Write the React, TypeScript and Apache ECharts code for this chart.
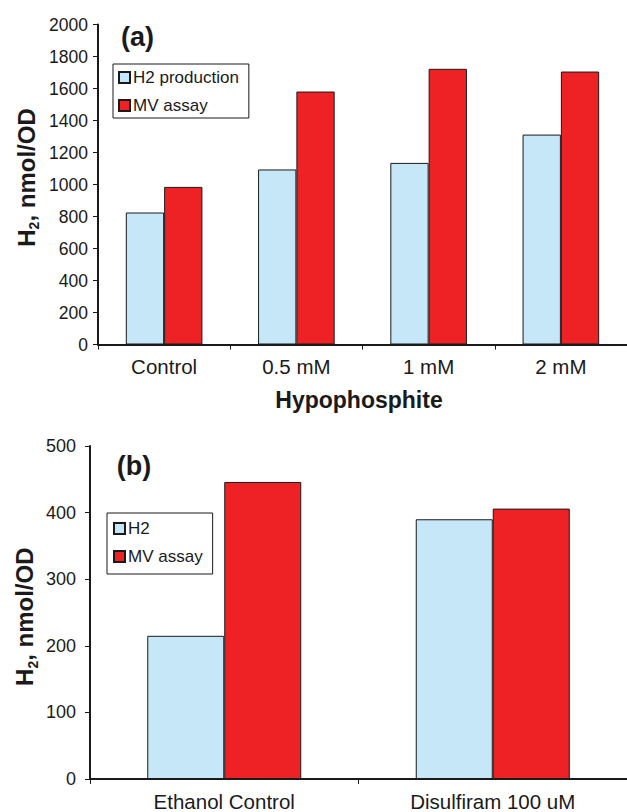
import React, { useEffect, useRef } from "react";
import * as echarts from "echarts";

const categoriesA = ["Control", "0.5 mM", "1 mM", "2 mM"];
const h2ProductionA = [825, 1094, 1135, 1312];
const mvAssayA = [985, 1581, 1723, 1706];

const categoriesB = ["Ethanol Control", "Disulfiram 100 uM"];
const h2B = [215, 390];
const mvAssayB = [446, 406];

const FONT = "'Liberation Sans', Arial, Helvetica, sans-serif";
const INK = "#1a1a1a";
const BLUE = "#C5E7F7";
const RED = "#EE2224";

export default function App() {
  const ref = useRef<HTMLDivElement>(null);
  useEffect(() => {
    if (!ref.current) return;
    const chart = echarts.init(ref.current, undefined, { renderer: "svg" });
    const axisLine = { show: true, lineStyle: { color: INK, width: 2 } };
    const axisTick = { show: true, length: 5, lineStyle: { color: INK, width: 1 } };
    const plain = (v: number) => String(v);
    const yName = (x: number, y: number) => ({
      type: "text",
      x,
      y,
      rotation: Math.PI / 2,
      style: {
        text: "{m|H}{s|2}{m|, nmol/OD}",
        align: "center",
        verticalAlign: "middle",
        fill: INK,
        rich: {
          m: { fontSize: 24, fontWeight: "bold", fontFamily: FONT, lineHeight: 30, verticalAlign: "middle", fill: INK },
          s: { fontSize: 14, fontWeight: "bold", fontFamily: FONT, lineHeight: 14, verticalAlign: "bottom", fill: INK },
        },
      },
    });
    const legendBase = {
      orient: "vertical",
      itemGap: 11,
      itemWidth: 11,
      itemHeight: 11,
      icon: "rect",
      borderColor: INK,
      borderWidth: 1,
      borderRadius: 0,
      backgroundColor: "#ffffff",
      selectedMode: false,
      textStyle: { fontSize: 17, color: INK, fontFamily: FONT, padding: [0, 0, 0, -2] },
    };
    const option: any = {
      animation: false,
      backgroundColor: "#ffffff",
      textStyle: { fontFamily: FONT, color: INK },
      grid: [
        { left: 98, top: 24.5, height: 320, right: -4.6 },
        { left: 90, top: 446, height: 333.3, right: -3.6 },
      ],
      xAxis: [
        {
          type: "category",
          gridIndex: 0,
          data: categoriesA,
          axisLine,
          axisTick,
          axisLabel: { fontSize: 20.5, color: INK, margin: 11, fontFamily: FONT },
        },
        {
          type: "category",
          gridIndex: 1,
          data: categoriesB,
          axisLine,
          axisTick,
          axisLabel: { fontSize: 20.5, color: INK, margin: 12, fontFamily: FONT },
        },
      ],
      yAxis: [
        {
          type: "value",
          gridIndex: 0,
          min: 0,
          max: 2000,
          interval: 200,
          axisLine,
          axisTick,
          splitLine: { show: false },
          axisLabel: { fontSize: 17.5, color: INK, margin: 10, fontFamily: FONT, formatter: plain },
        },
        {
          type: "value",
          gridIndex: 1,
          min: 0,
          max: 500,
          interval: 100,
          axisLine,
          axisTick,
          splitLine: { show: false },
          axisLabel: { fontSize: 18, color: INK, margin: 14, fontFamily: FONT, formatter: plain },
        },
      ],
      legend: [
        {
          ...legendBase,
          data: ["H2 production", "MV assay"],
          left: 113,
          top: 64,
          padding: [5, 10, 4, 5],
        },
        {
          ...legendBase,
          data: ["H2", "MV assay"],
          left: 107,
          top: 513,
          padding: [7, 10, 9, 6],
        },
      ],
      series: [
        {
          name: "H2 production",
          type: "bar",
          xAxisIndex: 0,
          yAxisIndex: 0,
          data: h2ProductionA,
          barWidth: 38.3,
          barGap: "0%",
          itemStyle: { color: BLUE, borderColor: INK, borderWidth: 1 },
        },
        {
          name: "MV assay",
          type: "bar",
          xAxisIndex: 0,
          yAxisIndex: 0,
          data: mvAssayA,
          barWidth: 38.3,
          barGap: "0%",
          itemStyle: { color: RED, borderColor: INK, borderWidth: 1 },
        },
        {
          name: "H2",
          type: "bar",
          xAxisIndex: 1,
          yAxisIndex: 1,
          data: h2B,
          barWidth: 77,
          barGap: "0%",
          itemStyle: { color: BLUE, borderColor: INK, borderWidth: 1 },
        },
        {
          name: "MV assay",
          type: "bar",
          xAxisIndex: 1,
          yAxisIndex: 1,
          data: mvAssayB,
          barWidth: 77,
          barGap: "0%",
          itemStyle: { color: RED, borderColor: INK, borderWidth: 1 },
        },
      ],
      graphic: [
        yName(26, 177.5),
        yName(24.5, 616.7),
        {
          type: "text",
          x: 359,
          y: 400,
          style: {
            text: "Hypophosphite",
            fontSize: 23,
            fontWeight: "bold",
            fontFamily: FONT,
            fill: INK,
            align: "center",
            verticalAlign: "middle",
          },
        },
        {
          type: "text",
          x: 137.5,
          y: 37,
          style: {
            text: "(a)",
            fontSize: 27,
            fontWeight: "bold",
            fontFamily: FONT,
            fill: INK,
            align: "center",
            verticalAlign: "middle",
          },
        },
        {
          type: "text",
          x: 134,
          y: 466,
          style: {
            text: "(b)",
            fontSize: 27,
            fontWeight: "bold",
            fontFamily: FONT,
            fill: INK,
            align: "center",
            verticalAlign: "middle",
          },
        },
      ],
    };
    chart.setOption(option);
    return () => chart.dispose();
  }, []);
  return (
    <div
      ref={ref}
      style={{ position: "absolute", left: 0, top: 0, width: 627, height: 812, background: "#fff" }}
    />
  );
}
